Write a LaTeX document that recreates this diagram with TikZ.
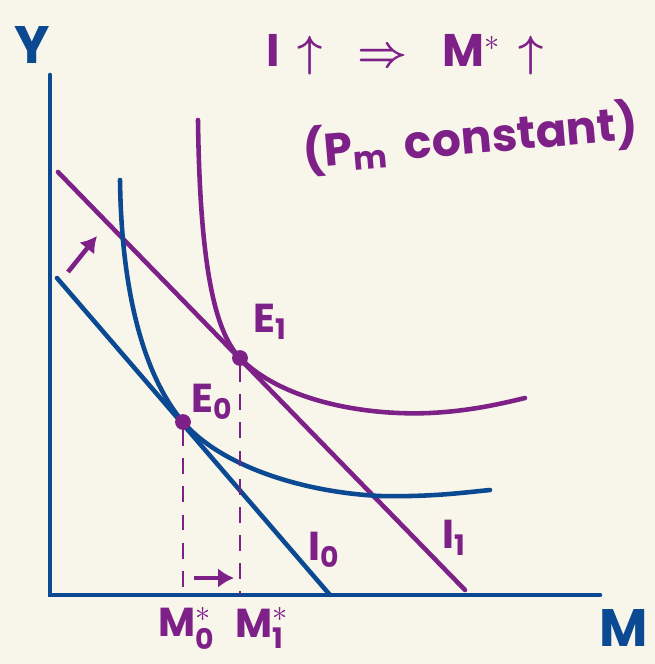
\documentclass[tikz,border=0pt]{standalone}
\usepackage{amsmath}
\usepackage{fontspec}
\setmainfont{Poppins}
\usetikzlibrary{positioning,arrows.meta}
\definecolor{paper}{HTML}{F8F5EA}
\definecolor{inkblue}{HTML}{0B4A92}
\definecolor{inkpurple}{HTML}{7D2088}

\begin{document}
\begin{tikzpicture}[x=0.02cm,y=-0.02cm,
axis/.style={inkblue,line width=2.6pt,line cap=round},
blueline/.style={inkblue,line width=2.6pt,line cap=round},
purpleline/.style={inkpurple,line width=2.6pt,line cap=round},
guide/.style={inkpurple,line width=1.4pt,dash pattern=on 9pt off 7pt},
dot/.style={circle,fill=inkpurple,inner sep=0pt,minimum size=9pt},
lbl/.style={inkpurple,font=\fontsize{23}{25}\selectfont\bfseries},
big/.style={inkpurple,font=\fontsize{26}{28}\selectfont\bfseries},
axlbl/.style={inkblue,font=\fontsize{30}{32}\selectfont\bfseries},
arrow/.style={-{Latex[length=9pt,width=11pt]},inkpurple,line width=2.6pt}]
\useasboundingbox[fill=paper] (0,0) rectangle (655,664);
% axes
\coordinate (origin) at (50,595);
\coordinate (ytop) at (50,75);
\coordinate (xend) at (600,595);
\draw[axis] (ytop) -- (origin) -- (xend);
\node[axlbl] (ylab) at (32,45) {Y};
\node[axlbl] (mlab) at (624,628) {M};
% budget lines
\coordinate (a0) at (57,278); \coordinate (b0) at (330,595);
\coordinate (a1) at (58,172); \coordinate (b1) at (465,590);
\draw[blueline] (a0) -- (b0);
\draw[purpleline] (a1) -- (b1);
\node[lbl] (i0) at (324,550) {I$_{\text{0}}$};
\node[lbl] (i1) at (454,538) {I$_{\text{1}}$};
% indifference curves
\coordinate (p0) at (183,422);
\coordinate (p1) at (240,358);
\draw[blueline] (120,180) .. controls (122,330) and (160,395) .. (p0)
  .. controls (220,465) and (300,492) .. (380,496)
  .. controls (430,497) and (460,493) .. (490,490);
\draw[purpleline] (198,120) .. controls (200,280) and (218,335) .. (p1)
  .. controls (280,399) and (360,416) .. (430,413)
  .. controls (470,411) and (500,404) .. (525,398);
% equilibria
\node[dot] (e0) at (p0) {};
\node[dot] (e1) at (p1) {};
\node[lbl] (e0lab) at (212,402) {E$_{\text{0}}$};
\node[lbl] (e1lab) at (270,322) {E$_{\text{1}}$};
\draw[guide] (e0) -- (e0 |- origin);
\draw[guide] (e1) -- (e1 |- origin);
\node[lbl] (m0) at (187,628) {M$^{*}_{\text{0}}$};
\node[lbl] (m1) at (262,628) {M$^{*}_{\text{1}}$};
% shifts
\coordinate (s0) at (68,272); \coordinate (s1) at (97,236);
\draw[arrow] (s0) -- (s1);
\coordinate (t0) at (194,578); \coordinate (t1) at (234,578);
\draw[arrow] (t0) -- (t1);
% title
\node[big] (head) at (405,55) {I\, $\boldsymbol{\uparrow}$\;\; $\boldsymbol{\Rightarrow}$\;\; M$^{*}$\, $\boldsymbol{\uparrow}$};
\node[big,rotate=5] (note) at (470,138) {(P$_{\text{m}}$\, constant)};
\end{tikzpicture}
\end{document}
